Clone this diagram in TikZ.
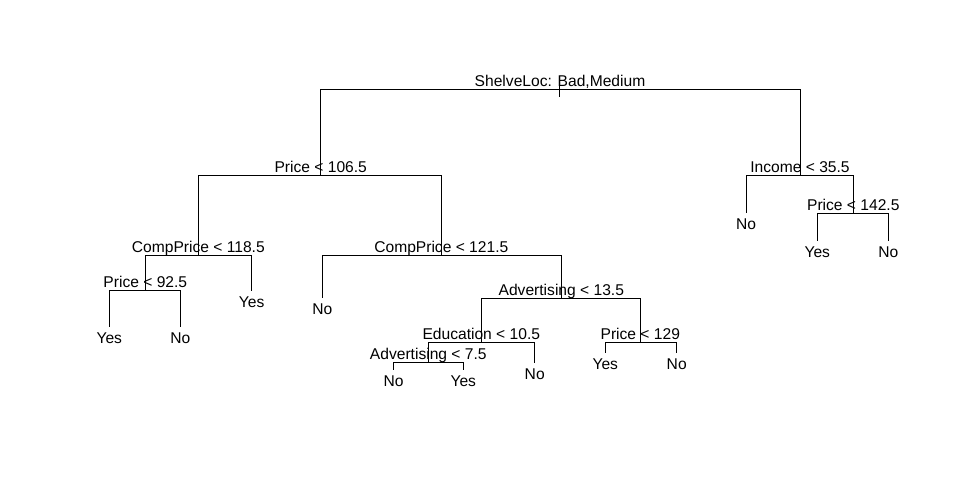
\documentclass[tikz,border=0pt]{standalone}
\usepackage{fontspec}
\setmainfont{Liberation Sans}
\begin{document}
\begin{tikzpicture}[x=1pt,y=-1pt,
  edge/.style={draw=black,line width=0.9pt},
  splitlab/.style={anchor=base,inner sep=0pt,yshift=3pt,font=\fontsize{15.6}{18}\selectfont},
  leaflab/.style={anchor=base,inner sep=0pt,yshift=-16.5pt,font=\fontsize{15.6}{18}\selectfont}]
\useasboundingbox[fill=white] (0,0) rectangle (960,480);
% tree nodes
\coordinate (root) at (559,89);
\coordinate (rtop) at (559,78);
\coordinate (rbot) at (559,97);
\coordinate (n2) at (320.7,175);
\coordinate (n3) at (800,175);
\coordinate (n4) at (198.3,255.3);
\coordinate (n5) at (441.3,255.3);
\coordinate (n8) at (145.3,290.7);
\coordinate (l9) at (251.7,290.7);
\coordinate (l16) at (109.3,326.7);
\coordinate (l17) at (180.3,326.7);
\coordinate (l10) at (322.3,298.3);
\coordinate (n11) at (561.3,298.3);
\coordinate (n22) at (481.3,342.7);
\coordinate (n23) at (640.3,342.7);
\coordinate (n44) at (428.3,362.3);
\coordinate (l45) at (534.7,362.7);
\coordinate (l88) at (393.7,370);
\coordinate (l89) at (463.3,370);
\coordinate (l46) at (605.3,352.7);
\coordinate (l47) at (676.7,352.7);
\coordinate (l6) at (746,213.3);
\coordinate (n7) at (853.3,213.3);
\coordinate (l14) at (817.3,240.7);
\coordinate (l15) at (888.3,240.7);
% edges
\draw[edge] (rtop) -- (rbot);
\draw[edge] (root) -| (n2);
\draw[edge] (root) -| (n3);
\draw[edge] (n2) -| (n4);
\draw[edge] (n2) -| (n5);
\draw[edge] (n4) -| (n8);
\draw[edge] (n4) -| (l9);
\draw[edge] (n8) -| (l16);
\draw[edge] (n8) -| (l17);
\draw[edge] (n5) -| (l10);
\draw[edge] (n5) -| (n11);
\draw[edge] (n11) -| (n22);
\draw[edge] (n11) -| (n23);
\draw[edge] (n22) -| (n44);
\draw[edge] (n22) -| (l45);
\draw[edge] (n44) -| (l88);
\draw[edge] (n44) -| (l89);
\draw[edge] (n23) -| (l46);
\draw[edge] (n23) -| (l47);
\draw[edge] (n3) -| (l6);
\draw[edge] (n3) -| (n7);
\draw[edge] (n7) -| (l14);
\draw[edge] (n7) -| (l15);
% split labels
\node[splitlab] (troot) at ([xshift=1pt]root) {ShelveLoc: Bad,Medium};
\node[splitlab] (tn2) at (n2) {Price < 106.5};
\node[splitlab] (tn3) at (n3) {Income < 35.5};
\node[splitlab] (tn4) at (n4) {CompPrice < 118.5};
\node[splitlab] (tn5) at (n5) {CompPrice < 121.5};
\node[splitlab] (tn8) at (n8) {Price < 92.5};
\node[splitlab] (tn11) at (n11) {Advertising < 13.5};
\node[splitlab] (tn22) at (n22) {Education < 10.5};
\node[splitlab] (tn23) at (n23) {Price < 129};
\node[splitlab] (tn44) at (n44) {Advertising < 7.5};
\node[splitlab] (tn7) at (n7) {Price < 142.5};
% leaf labels
\node[leaflab] (tl9) at (l9) {Yes};
\node[leaflab] (tl16) at (l16) {Yes};
\node[leaflab] (tl17) at (l17) {No};
\node[leaflab] (tl10) at (l10) {No};
\node[leaflab] (tl45) at (l45) {No};
\node[leaflab] (tl88) at (l88) {No};
\node[leaflab] (tl89) at (l89) {Yes};
\node[leaflab] (tl46) at (l46) {Yes};
\node[leaflab] (tl47) at (l47) {No};
\node[leaflab] (tl6) at (l6) {No};
\node[leaflab] (tl14) at (l14) {Yes};
\node[leaflab] (tl15) at (l15) {No};
\end{tikzpicture}
\end{document}
